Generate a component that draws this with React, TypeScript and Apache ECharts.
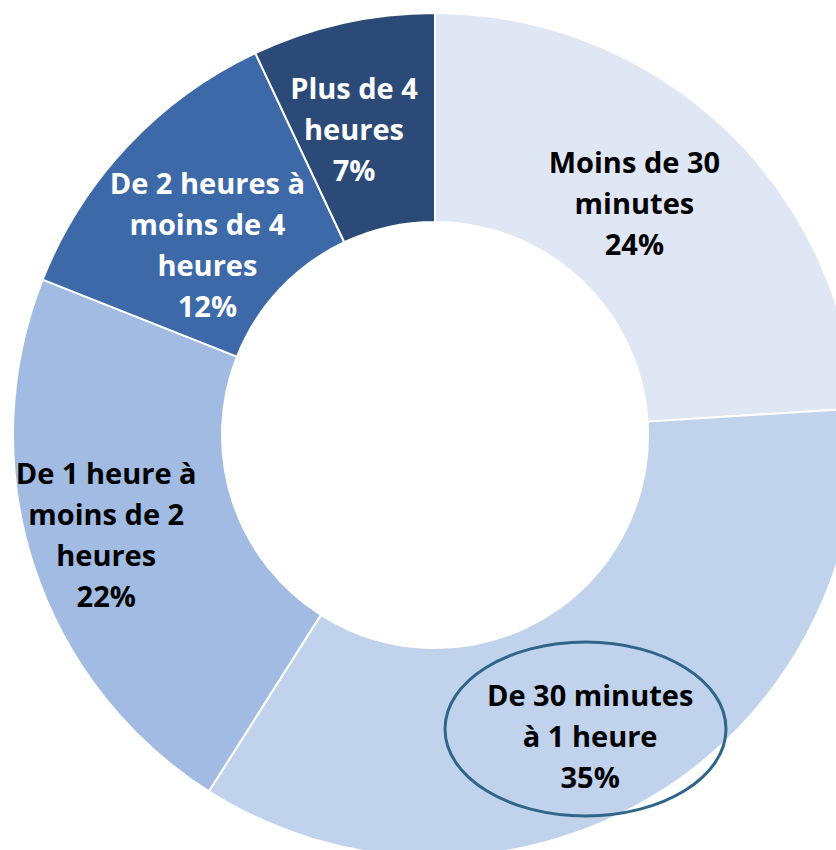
import React, { useEffect, useRef } from "react";
import * as echarts from "echarts";

const categories = [
  "Moins de 30 minutes",
  "De 30 minutes à 1 heure",
  "De 1 heure à moins de 2 heures",
  "De 2 heures à moins de 4 heures",
  "Plus de 4 heures",
];
const labelLines = [
  "Moins de 30\nminutes",
  "De 30 minutes\nà 1 heure",
  "De 1 heure à\nmoins de 2\nheures",
  "De 2 heures à\nmoins de 4\nheures",
  "Plus de 4\nheures",
];
const values = [24, 35, 22, 12, 7];
const colors = ["#dfe7f5", "#c0d2ec", "#a1bbe2", "#3d69a8", "#2b4a78"];
const labelColors = ["#000000", "#000000", "#000000", "#ffffff", "#ffffff"];
const labelOffsets = [
  [-20, 1],
  [-8, 25],
  [-24, 0],
  [6, 28],
  [0, 0],
];
// the narrow last slice is too small for ECharts to keep an inside label,
// so its label is drawn as a graphic text at the slice's label spot
const narrowIndex = 4;

const FONT = "Open Sans";

export default function App() {
  const ref = useRef<HTMLDivElement>(null);
  useEffect(() => {
    if (!ref.current) return;
    const chart = echarts.init(ref.current, null, { renderer: "svg" });
    chart.setOption({
      animation: false,
      backgroundColor: "#ffffff",
      series: [
        {
          type: "pie",
          center: [435, 435],
          radius: [213, 422],
          startAngle: 90,
          clockwise: true,
          silent: true,
          avoidLabelOverlap: false,
          itemStyle: { borderColor: "#ffffff", borderWidth: 2 },
          label: {
            show: true,
            position: "inside",
            fontFamily: FONT,
            fontWeight: "bold",
            fontSize: 29,
            lineHeight: 41,
            align: "center",
          },
          labelLine: { show: false },
          data: categories.map((name, i) => ({
            name,
            value: values[i],
            itemStyle: { color: colors[i] },
            label: {
              show: i !== narrowIndex,
              color: labelColors[i],
              offset: labelOffsets[i],
              formatter: () => `${labelLines[i]}\n${values[i]}%`,
            },
          })),
        },
      ],
      graphic: [
        {
          type: "text",
          x: 354,
          y: 128,
          z: 100,
          style: {
            text: `${labelLines[narrowIndex]}\n${values[narrowIndex]}%`,
            fill: labelColors[narrowIndex],
            font: `bold 29px "${FONT}"`,
            lineHeight: 41,
            align: "center",
            verticalAlign: "middle",
          },
        },
        {
          type: "ellipse",
          shape: { cx: 585.5, cy: 729, rx: 140.5, ry: 87 },
          style: { fill: "none", stroke: "#2e6589", lineWidth: 3 },
          z: 100,
        },
      ],
    });
    return () => chart.dispose();
  }, []);
  return (
    <div
      ref={ref}
      style={{ position: "fixed", left: 0, top: 0, width: 836, height: 850 }}
    />
  );
}
